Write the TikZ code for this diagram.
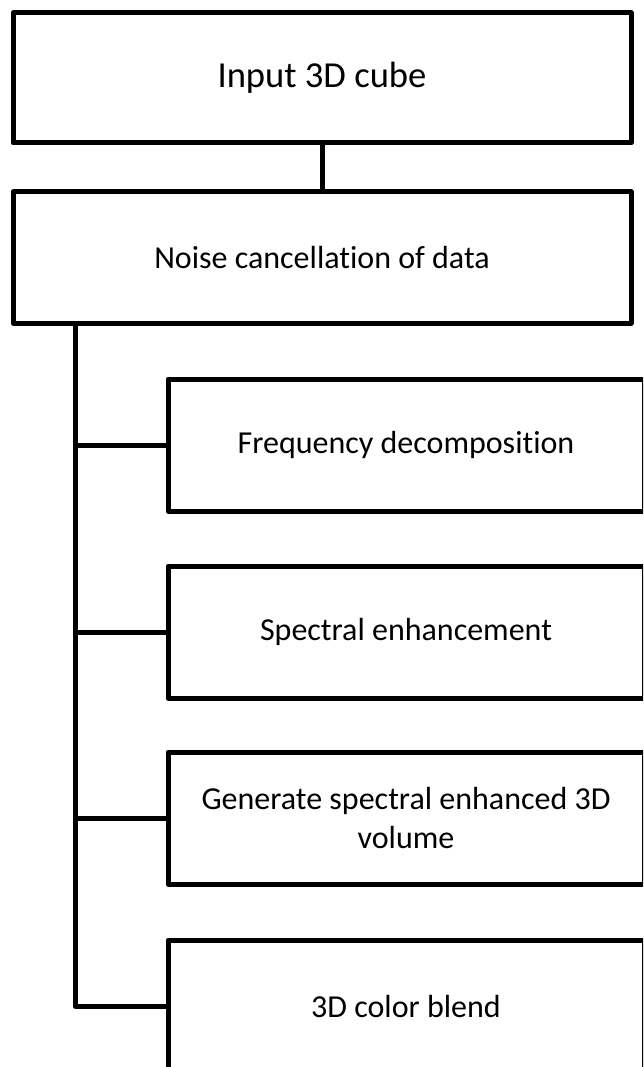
\documentclass[tikz,border=0pt]{standalone}
\usepackage{fontspec}
\setmainfont{Carlito}[Ligatures=NoCommon]
\begin{document}
\begin{tikzpicture}[x=1pt, y=-1pt,
        line width=5pt, line join=round,
        top/.style={draw, minimum width=618pt, minimum height=130pt, inner sep=0pt, font=\fontsize{36.6}{44}\selectfont},
        box/.style={draw, minimum width=618pt, minimum height=131pt, inner sep=0pt, font=\fontsize{32}{39}\selectfont},
        sub/.style={draw, minimum width=476pt, minimum height=132pt, inner sep=0pt, align=center, font=\fontsize{32}{39}\selectfont}]
        \useasboundingbox (0,0) rectangle (643,1067);
        \clip (0,0) rectangle (643,1067);

        \node[top] (cube) at (322,78) {Input 3D cube};
        \node[box] (noise) at (322,257.5) {Noise cancellation of data};

        \node[sub] (freq) at (406,445) {Frequency decomposition};
        \node[sub] (spec) at (406,632) {Spectral enhancement};
        \node[sub] (vol) at (406,818) {Generate spectral enhanced 3D\\volume};
        \node[sub] (blend) at (406,1006) {3D color blend};

        \coordinate (trunk) at (75,0);

        \draw (cube) -- (noise);
        \draw (noise.south -| trunk) |- (blend.west);
        \draw (trunk |- freq.west) -- (freq.west);
        \draw (trunk |- spec.west) -- (spec.west);
        \draw (trunk |- vol.west) -- (vol.west);
    \end{tikzpicture}
\end{document}
